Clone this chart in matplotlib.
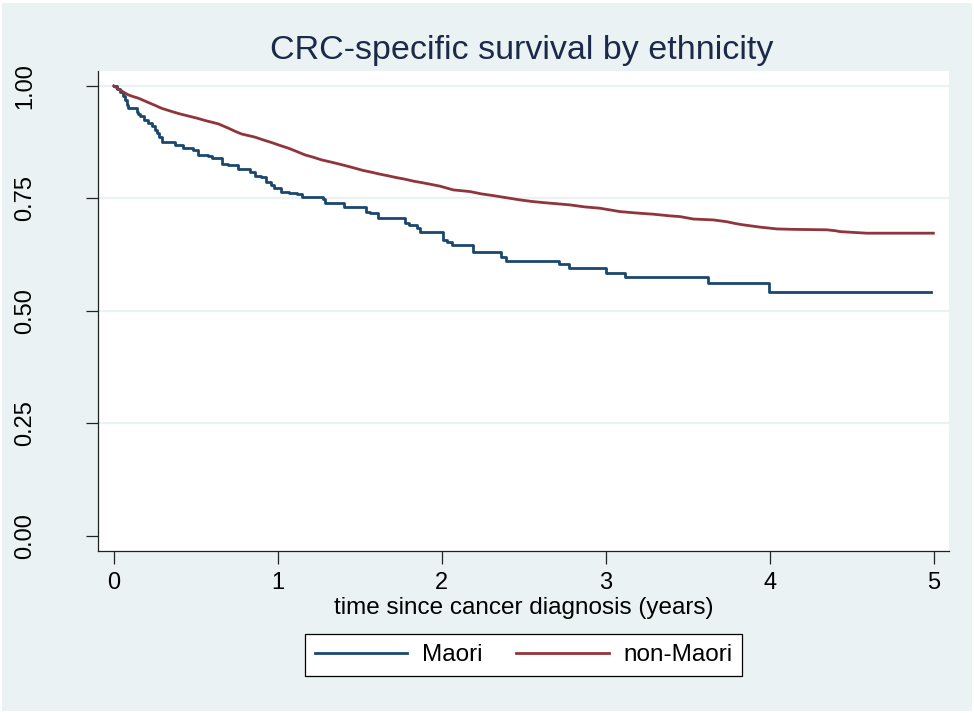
import matplotlib
matplotlib.use('Agg')
import matplotlib.pyplot as plt
from matplotlib.patches import Rectangle

plt.rcParams['font.family'] = ['Liberation Sans', 'DejaVu Sans']

# Kaplan-Meier step estimates (time in years, survival after each event)
maori_t = [0.000, 0.020, 0.038, 0.055, 0.069, 0.080, 0.089, 0.140, 0.150, 0.160,
           0.185, 0.211, 0.232, 0.252, 0.265, 0.276, 0.296, 0.374, 0.424, 0.485,
           0.516, 0.577, 0.598, 0.660, 0.700, 0.760, 0.830, 0.860, 0.900, 0.930,
           0.960, 0.980, 1.020, 1.070, 1.120, 1.150, 1.275, 1.290, 1.405, 1.540,
           1.560, 1.610, 1.775, 1.800, 1.850, 1.868, 2.005, 2.030, 2.061, 2.189,
           2.360, 2.392, 2.713, 2.778, 3.003, 3.118, 3.626, 3.996, 4.984]
maori_s = [1.000, 0.994, 0.987, 0.978, 0.969, 0.958, 0.950, 0.942, 0.937, 0.933,
           0.925, 0.917, 0.910, 0.902, 0.895, 0.887, 0.876, 0.868, 0.862, 0.858,
           0.847, 0.844, 0.839, 0.827, 0.824, 0.815, 0.809, 0.800, 0.797, 0.787,
           0.780, 0.772, 0.764, 0.761, 0.759, 0.754, 0.748, 0.7405, 0.730, 0.7205,
           0.717, 0.706, 0.696, 0.691, 0.683, 0.676, 0.6575, 0.6538, 0.6464, 0.6315,
           0.6191, 0.6109, 0.6035, 0.5946, 0.5848, 0.5756, 0.5613, 0.5426, 0.5426]

# non-Maori curve has many small events, drawn as a fine polyline
nonmaori_t = [0.000, 0.030, 0.060, 0.089, 0.120, 0.150, 0.211, 0.250, 0.293, 0.354,
              0.400, 0.455, 0.510, 0.557, 0.638, 0.699, 0.740, 0.780, 0.862, 0.910,
              0.963, 1.010, 1.065, 1.110, 1.166, 1.220, 1.268, 1.320, 1.370, 1.420,
              1.471, 1.520, 1.573, 1.620, 1.674, 1.725, 1.776, 1.830, 1.878, 1.929,
              1.990, 2.071, 2.173, 2.240, 2.315, 2.400, 2.477, 2.550, 2.620, 2.700,
              2.782, 2.870, 2.965, 3.087, 3.200, 3.290, 3.392, 3.453, 3.534, 3.656,
              3.738, 3.790, 3.839, 3.941, 4.043, 4.144, 4.348, 4.400, 4.429, 4.591,
              4.998]
nonmaori_s = [1.000, 0.993, 0.986, 0.980, 0.976, 0.9727, 0.963, 0.957, 0.950, 0.943,
              0.938, 0.933, 0.928, 0.923, 0.9155, 0.906, 0.899, 0.893, 0.886, 0.880,
              0.874, 0.868, 0.8615, 0.855, 0.8466, 0.841, 0.8354, 0.831, 0.8266, 0.822,
              0.817, 0.812, 0.808, 0.804, 0.800, 0.796, 0.7925, 0.788, 0.785, 0.7814,
              0.777, 0.7687, 0.765, 0.760, 0.756, 0.751, 0.7465, 0.743, 0.7405, 0.738,
              0.7354, 0.731, 0.728, 0.7205, 0.717, 0.7147, 0.711, 0.7094, 0.704, 0.702,
              0.698, 0.694, 0.691, 0.686, 0.682, 0.681, 0.680, 0.678, 0.676, 0.6725,
              0.6725]

y_ticks = [0.00, 0.25, 0.50, 0.75, 1.00]
x_ticks = [0, 1, 2, 3, 4, 5]

BG = '#EAF2F3'
NAVY = '#1A476F'
MAROON = '#90353B'
AXIS = '#222222'

fig = plt.figure(figsize=(9.74, 7.13), dpi=100, facecolor='white')
fig.patches.append(Rectangle((0.002, 0.003), 0.996, 0.993, transform=fig.transFigure,
                             facecolor=BG, edgecolor='none', zorder=-10))

ax = fig.add_axes([0.1009, 0.2272, 0.8734, 0.6732])
ax.set_facecolor('white')

for v in y_ticks[1:]:
    ax.axhline(v, color=BG, linewidth=1.6, zorder=1)

ax.step(maori_t, maori_s, where='post', color=NAVY, linewidth=2, label='Maori', zorder=3)
ax.plot(nonmaori_t, nonmaori_s, color=MAROON, linewidth=2, label='non-Maori', zorder=3)

ax.set_xlim(-0.094, 5.093)
ax.set_ylim(-0.034, 1.033)

ax.set_xticks(x_ticks)
ax.set_xticklabels([str(x) for x in x_ticks], fontsize=17)
ax.set_yticks(y_ticks)
ax.set_yticklabels([f'{v:.2f}' for v in y_ticks], fontsize=17, rotation=90, va='center')
ax.tick_params(axis='x', length=9, width=0.9, pad=6, color=AXIS)
ax.tick_params(axis='y', length=9, width=0.9, pad=36, color=AXIS)

for side in ['top', 'right']:
    ax.spines[side].set_visible(False)
for side in ['left', 'bottom']:
    ax.spines[side].set_color(AXIS)
    ax.spines[side].set_linewidth(0.9)

ax.set_xlabel('time since cancer diagnosis (years)', fontsize=17.5, labelpad=2)
fig.suptitle('CRC-specific survival by ethnicity', fontsize=24.5, color='#1C2A4A',
             x=0.536, y=0.951)

leg = fig.legend(loc='center', bbox_to_anchor=(523.5 / 974, 1 - 655 / 713), ncol=2,
                 fontsize=17.5, frameon=True, fancybox=False, edgecolor='black',
                 facecolor='white', framealpha=1, handlelength=3.8, handletextpad=0.6,
                 columnspacing=1.4, borderpad=0.42)
leg.get_frame().set_linewidth(0.9)

fig.savefig('out.png', dpi=100, facecolor=fig.get_facecolor())
